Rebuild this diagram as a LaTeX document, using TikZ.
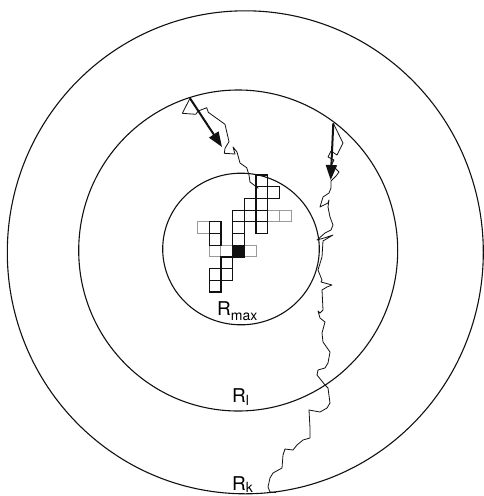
\documentclass[tikz,border=0pt]{standalone}
\usepackage{fontspec}
\setsansfont{TeX Gyre Heros}
\usepackage{tikz}
\usetikzlibrary{arrows.meta}
\definecolor{InkBlack}{HTML}{111111}
\definecolor{SiteGray}{HTML}{9A9A9A}
\tikzset{
  ring/.style={draw=InkBlack,line width=1.1pt},
  walk/.style={draw=InkBlack,line width=0.8pt,line join=round},
  jump/.style={-{Triangle[length=15pt,width=11pt]},line width=2pt,draw=InkBlack},
  site/.style={draw=InkBlack,line width=1.2pt},
  edgesite/.style={draw=SiteGray,line width=0.9pt},
  seed/.style={site,fill=InkBlack},
  radius/.style={font=\sffamily\fontsize{19}{19}\selectfont,inner sep=0pt,anchor=base west}
}
\newcommand{\lowidx}[2][4pt]{\raisebox{-#1}{\fontsize{14}{14}\selectfont #2}}

\begin{document}
\begin{tikzpicture}[x=1pt,y=-1pt]
  \useasboundingbox (0,0) rectangle (484,496);

  \draw[ring] (245.3,252.3) ellipse [x radius=238pt,y radius=241.5pt];
  \draw[ring] (238.2,250.5) ellipse [x radius=159.5pt,y radius=160.5pt];
  \draw[ring] (241,249) ellipse [x radius=78.3pt,y radius=75.8pt];

  \foreach \c/\r in {6/3,7/3,0/4,1/6,2/6,4/6}
    \draw[edgesite] ({197.5+11.7*\c},{175+11.7*\r}) rectangle ++(11.7,11.7);
  \foreach \c/\r in {5/0,5/1,6/1,4/2,5/2,3/3,4/3,5/3,1/4,3/4,5/4,1/5,3/5,2/7,1/8,2/8,1/9}
    \draw[site] ({197.5+11.7*\c},{175+11.7*\r}) rectangle ++(11.7,11.7);
  \draw[seed] ({197.5+11.7*3},{175+11.7*6}) rectangle ++(11.7,11.7);

  \node[radius] (rmax) at (217,315) {R\lowidx[5pt]{max}};
  \node[radius] (rl) at (232,402) {R\lowidx[3pt]{l}};
  \node[radius] (rk) at (232,490.5) {R\lowidx[2pt]{k}};

  \coordinate (startA) at (190,98.3);
  \coordinate (tipA) at (222,147);
  \coordinate (startB) at (333.3,123.3);
  \coordinate (tipB) at (330.7,180);

  \draw[walk] (startA) -- (182.3,113.3) -- (195.7,114.3) -- (198.3,111) -- (206.7,107.7)
    -- (208.3,112.3) -- (225,124.3) -- (229,141.7) -- (225,148.3) -- (224.3,153.3)
    -- (235,154) -- (233,147) -- (237,152) -- (240,163) -- (246.7,167.7) -- (249,175)
    -- (250,182) -- (258.3,188.3);
  \draw[walk] (startB) -- (343,143) -- (337,155) -- (331,151) -- (328,157) -- (334,160)
    -- (331,166) -- (335,168) -- (339,172) -- (336,176) -- (331,181) -- (331,188)
    -- (329,193) -- (323,197) -- (320,207) -- (328,203) -- (329,200) -- (328,207)
    -- (330,217) -- (333,225) -- (331,230) -- (325,233) -- (317,240) -- (324,238)
    -- (333,235) -- (323,241) -- (322,257) -- (318,270) -- (322,280) -- (321,282)
    -- (332,285) -- (327,287) -- (322,290) -- (323,310) -- (320,313) -- (318,311)
    -- (320,318) -- (325,322) -- (322,333) -- (323,342) -- (330,352) -- (328,363)
    -- (325,368) -- (318,370) -- (317,375) -- (321,380) -- (325,385) -- (328,388)
    -- (330,403) -- (327,408) -- (320,412) -- (309,410) -- (310,428) -- (310,438)
    -- (303,440) -- (297,445) -- (293,450) -- (285,449) -- (283,455) -- (282,468)
    -- (273,473) -- (270,478) -- (268,487) -- (270,492) -- (276,492.5);

  \draw[jump] (startA) -- (tipA);
  \draw[jump] (startB) -- (tipB);
\end{tikzpicture}
\end{document}
